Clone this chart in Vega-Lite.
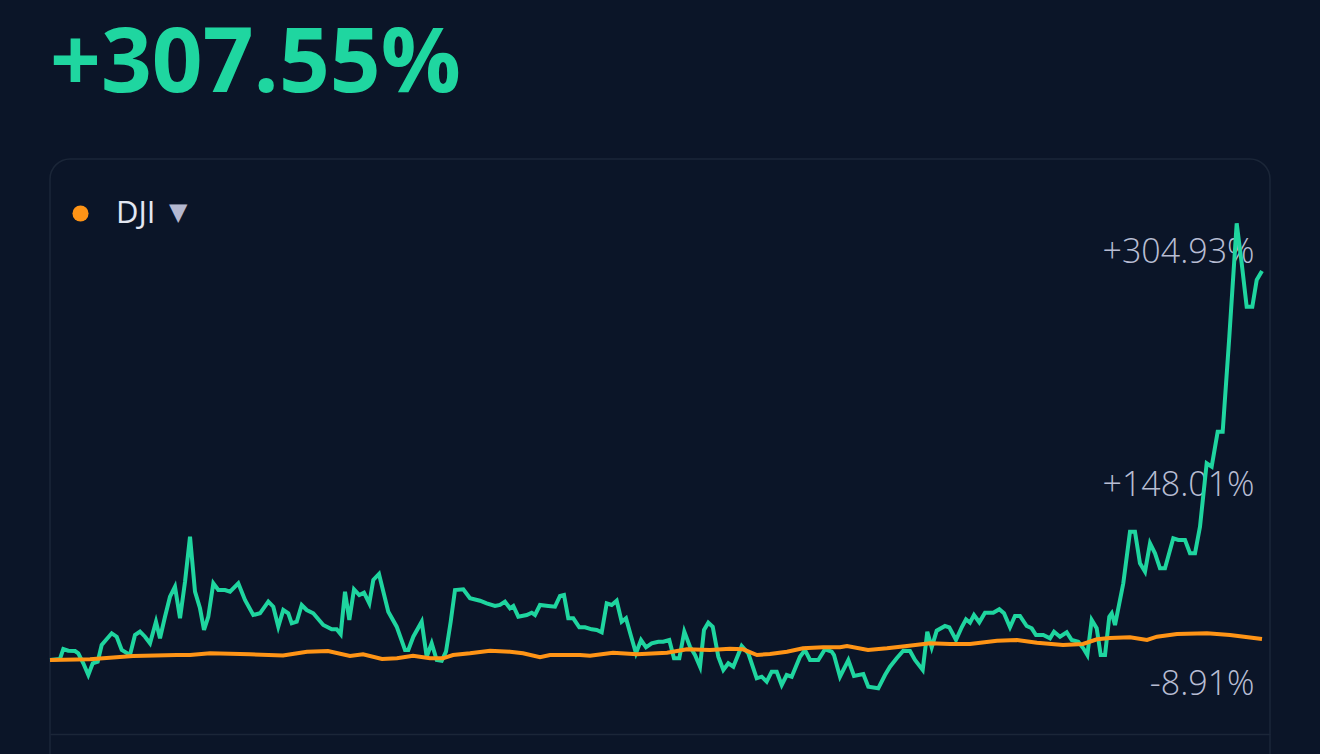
{
  "$schema": "https://vega.github.io/schema/vega-lite/v6.json",
  "width": 1220,
  "height": 620,
  "autosize": {"type": "none"},
  "padding": {"left": 50, "top": 159, "right": 50, "bottom": -25},
  "background": "#0b1528",
  "title": {"text": "+307.55%", "anchor": "start", "frame": "group", "font": "Open Sans", "fontSize": 89, "fontWeight": "bold", "color": "#1fd6a0", "offset": 48},
  "config": {"view": {"stroke": "#1b2638", "strokeWidth": 1.5, "cornerRadius": 20}},
  "datasets": {
    "stock": [
      {"t": 0, "pct": 0}, {"t": 2.06, "pct": 0.79}, {"t": 2.74, "pct": 8.7}, {"t": 3.77, "pct": 7.35}, {"t": 5.16, "pct": 7.12}, {"t": 5.84, "pct": 5.3}, {"t": 6.87, "pct": -2.61}, {"t": 7.9, "pct": -11.86}, {"t": 8.81, "pct": -2.61}, {"t": 9.84, "pct": -1.34}, {"t": 10.66, "pct": 11.86}, {"t": 12.73, "pct": 21.11}, {"t": 13.76, "pct": 18.42}, {"t": 14.79, "pct": 7.91}, {"t": 16.5, "pct": 3.95}, {"t": 17.53, "pct": 19.77}, {"t": 18.56, "pct": 22.38}, {"t": 19.6, "pct": 18.42}, {"t": 20.63, "pct": 13.2}, {"t": 21.86, "pct": 30.28}, {"t": 22.69, "pct": 17.16}, {"t": 23.72, "pct": 34.23}, {"t": 24.75, "pct": 50.05}, {"t": 25.78, "pct": 57.95}, {"t": 26.82, "pct": 32.97}, {"t": 27.85, "pct": 61.91}, {"t": 28.88, "pct": 97.49}, {"t": 29.91, "pct": 54.0}, {"t": 30.94, "pct": 40.88}, {"t": 31.77, "pct": 23.72}, {"t": 32.65, "pct": 34.23}, {"t": 33.69, "pct": 60.64}, {"t": 34.72, "pct": 55.34}, {"t": 36.1, "pct": 55.34}, {"t": 37.13, "pct": 54.0}, {"t": 38.84, "pct": 60.64}, {"t": 40.22, "pct": 47.44}, {"t": 41.93, "pct": 35.58}, {"t": 43.32, "pct": 36.92}, {"t": 45.03, "pct": 46.09}, {"t": 46.06, "pct": 42.14}, {"t": 47.09, "pct": 26.33}, {"t": 48.12, "pct": 39.53}, {"t": 49.15, "pct": 36.92}, {"t": 49.86, "pct": 29.02}, {"t": 50.89, "pct": 30.28}, {"t": 51.92, "pct": 43.49}, {"t": 52.95, "pct": 39.53}, {"t": 54.31, "pct": 36.92}, {"t": 56.37, "pct": 27.67}, {"t": 58.11, "pct": 24.27}, {"t": 59.13, "pct": 24.27}, {"t": 59.96, "pct": 20.32}, {"t": 60.85, "pct": 54.0}, {"t": 61.74, "pct": 31.63}, {"t": 62.71, "pct": 55.9}, {"t": 63.8, "pct": 51.39}, {"t": 64.77, "pct": 53.21}, {"t": 65.86, "pct": 44.83}, {"t": 66.69, "pct": 63.25}, {"t": 67.86, "pct": 68.0}, {"t": 69.78, "pct": 38.19}, {"t": 71.51, "pct": 26.33}, {"t": 73.23, "pct": 7.91}, {"t": 73.91, "pct": 7.91}, {"t": 74.94, "pct": 18.42}, {"t": 76.67, "pct": 30.28}, {"t": 77.7, "pct": 2.61}, {"t": 78.73, "pct": 13.2}, {"t": 79.77, "pct": 0}, {"t": 80.8, "pct": -0.55}, {"t": 81.68, "pct": 6.56}, {"t": 82.65, "pct": 30.28}, {"t": 83.54, "pct": 55.34}, {"t": 85.25, "pct": 55.9}, {"t": 86.63, "pct": 48.78}, {"t": 88.7, "pct": 46.88}, {"t": 90.08, "pct": 44.83}, {"t": 91.79, "pct": 42.69}, {"t": 92.82, "pct": 43.49}, {"t": 93.85, "pct": 46.09}, {"t": 94.88, "pct": 40.88}, {"t": 95.57, "pct": 42.69}, {"t": 96.6, "pct": 34.23}, {"t": 98.33, "pct": 35.58}, {"t": 99.36, "pct": 37.4}, {"t": 100.04, "pct": 35.58}, {"t": 101.07, "pct": 43.49}, {"t": 102.79, "pct": 42.69}, {"t": 104.17, "pct": 42.14}, {"t": 105.2, "pct": 50.6}, {"t": 106.02, "pct": 51.39}, {"t": 106.91, "pct": 32.97}, {"t": 107.94, "pct": 32.97}, {"t": 109.18, "pct": 25.85}, {"t": 110.36, "pct": 25.85}, {"t": 111.74, "pct": 24.27}, {"t": 112.77, "pct": 23.72}, {"t": 113.8, "pct": 21.9}, {"t": 114.83, "pct": 44.83}, {"t": 115.86, "pct": 43.49}, {"t": 116.89, "pct": 46.88}, {"t": 117.92, "pct": 30.28}, {"t": 118.81, "pct": 32.97}, {"t": 119.78, "pct": 19.77}, {"t": 120.87, "pct": 5.3}, {"t": 121.91, "pct": 15.81}, {"t": 122.94, "pct": 10.04}, {"t": 124.11, "pct": 13.2}, {"t": 125.47, "pct": 14.47}, {"t": 126.5, "pct": 14.47}, {"t": 127.74, "pct": 15.81}, {"t": 128.71, "pct": 1.34}, {"t": 129.81, "pct": 1.34}, {"t": 130.84, "pct": 22.38}, {"t": 132.01, "pct": 10.52}, {"t": 133.04, "pct": 3.95}, {"t": 134.08, "pct": -5.3}, {"t": 134.9, "pct": 23.72}, {"t": 135.79, "pct": 29.49}, {"t": 136.7, "pct": 26.33}, {"t": 137.85, "pct": 2.61}, {"t": 138.89, "pct": -7.91}, {"t": 139.92, "pct": -2.61}, {"t": 140.95, "pct": -5.3}, {"t": 142.68, "pct": 11.07}, {"t": 144.04, "pct": 5.3}, {"t": 145.77, "pct": -14.47}, {"t": 146.8, "pct": -13.2}, {"t": 147.83, "pct": -17.16}, {"t": 148.86, "pct": -9.25}, {"t": 149.9, "pct": -9.25}, {"t": 150.93, "pct": -19.77}, {"t": 151.96, "pct": -11.86}, {"t": 152.99, "pct": -13.2}, {"t": 154.7, "pct": 2.61}, {"t": 155.73, "pct": 7.91}, {"t": 156.77, "pct": 0}, {"t": 158.48, "pct": 0}, {"t": 159.86, "pct": 8.46}, {"t": 161.24, "pct": 6.56}, {"t": 161.72, "pct": 3.95}, {"t": 162.95, "pct": -13.2}, {"t": 164.67, "pct": 0}, {"t": 165.84, "pct": -12.65}, {"t": 167.76, "pct": -11.07}, {"t": 168.79, "pct": -21.11}, {"t": 170.85, "pct": -22.38}, {"t": 172.24, "pct": -11.86}, {"t": 173.27, "pct": -5.3}, {"t": 174.65, "pct": 1.34}, {"t": 176.01, "pct": 7.35}, {"t": 177.39, "pct": 7.12}, {"t": 178.42, "pct": 0}, {"t": 180.01, "pct": -7.91}, {"t": 180.96, "pct": 22.38}, {"t": 181.87, "pct": 10.04}, {"t": 182.9, "pct": 23.17}, {"t": 184.61, "pct": 26.88}, {"t": 185.5, "pct": 25.85}, {"t": 186.88, "pct": 15.81}, {"t": 188.06, "pct": 25.85}, {"t": 188.94, "pct": 32.18}, {"t": 189.77, "pct": 29.49}, {"t": 190.59, "pct": 35.58}, {"t": 191.69, "pct": 29.81}, {"t": 192.86, "pct": 37.4}, {"t": 194.57, "pct": 37.4}, {"t": 195.81, "pct": 40.09}, {"t": 196.78, "pct": 36.92}, {"t": 198.02, "pct": 25.85}, {"t": 199.05, "pct": 34.79}, {"t": 200.08, "pct": 34.79}, {"t": 201.46, "pct": 26.88}, {"t": 202.5, "pct": 25.06}, {"t": 203.38, "pct": 19.77}, {"t": 204.89, "pct": 19.77}, {"t": 206.27, "pct": 17.16}, {"t": 207.1, "pct": 22.38}, {"t": 208.33, "pct": 18.42}, {"t": 209.72, "pct": 21.9}, {"t": 210.75, "pct": 15.81}, {"t": 212.11, "pct": 14.47}, {"t": 213.14, "pct": 9.25}, {"t": 213.97, "pct": 3.95}, {"t": 214.87, "pct": 31.63}, {"t": 215.9, "pct": 25.06}, {"t": 216.73, "pct": 3.95}, {"t": 217.62, "pct": 3.95}, {"t": 218.5, "pct": 34.23}, {"t": 219.0, "pct": 36.92}, {"t": 219.68, "pct": 27.67}, {"t": 221.39, "pct": 60.64}, {"t": 222.77, "pct": 101.44}, {"t": 223.8, "pct": 101.44}, {"t": 224.83, "pct": 76.46}, {"t": 225.87, "pct": 69.81}, {"t": 226.9, "pct": 92.27}, {"t": 227.93, "pct": 84.36}, {"t": 228.96, "pct": 72.5}, {"t": 229.99, "pct": 72.5}, {"t": 231.7, "pct": 96.22}, {"t": 232.74, "pct": 94.88}, {"t": 234.12, "pct": 94.88}, {"t": 235.15, "pct": 84.36}, {"t": 236.18, "pct": 84.36}, {"t": 237.21, "pct": 105.39}, {"t": 238.59, "pct": 155.52}, {"t": 239.62, "pct": 152.83}, {"t": 240.86, "pct": 180.5}, {"t": 241.89, "pct": 180.5}, {"t": 243.26, "pct": 255.61}, {"t": 244.78, "pct": 345.27}, {"t": 245.81, "pct": 313.65}, {"t": 246.84, "pct": 279.33}, {"t": 248.0, "pct": 279.33}, {"t": 248.91, "pct": 300.44}, {"t": 250, "pct": 307.55}
    ],
    "dji": [
      {"series": "DJI", "t": 0, "pct": 0}, {"series": "DJI", "t": 8.25, "pct": 0.55}, {"series": "DJI", "t": 17.12, "pct": 3.16}, {"series": "DJI", "t": 26.2, "pct": 3.95}, {"series": "DJI", "t": 28.88, "pct": 3.95}, {"series": "DJI", "t": 33.0, "pct": 5.3}, {"series": "DJI", "t": 41.25, "pct": 4.51}, {"series": "DJI", "t": 48.06, "pct": 3.48}, {"series": "DJI", "t": 53.01, "pct": 6.56}, {"series": "DJI", "t": 57.34, "pct": 7.12}, {"series": "DJI", "t": 61.88, "pct": 3.16}, {"series": "DJI", "t": 64.56, "pct": 4.51}, {"series": "DJI", "t": 68.48, "pct": 0.79}, {"series": "DJI", "t": 71.57, "pct": 1.34}, {"series": "DJI", "t": 74.88, "pct": 3.4}, {"series": "DJI", "t": 78.38, "pct": 1.34}, {"series": "DJI", "t": 81.06, "pct": 1.34}, {"series": "DJI", "t": 83.13, "pct": 3.95}, {"series": "DJI", "t": 86.63, "pct": 5.3}, {"series": "DJI", "t": 90.76, "pct": 7.35}, {"series": "DJI", "t": 94.88, "pct": 6.56}, {"series": "DJI", "t": 97.57, "pct": 5.3}, {"series": "DJI", "t": 101.07, "pct": 2.13}, {"series": "DJI", "t": 103.14, "pct": 3.95}, {"series": "DJI", "t": 109.32, "pct": 3.95}, {"series": "DJI", "t": 111.39, "pct": 3.4}, {"series": "DJI", "t": 116.13, "pct": 5.77}, {"series": "DJI", "t": 121.08, "pct": 4.51}, {"series": "DJI", "t": 127.27, "pct": 5.77}, {"series": "DJI", "t": 131.39, "pct": 8.46}, {"series": "DJI", "t": 136.14, "pct": 7.91}, {"series": "DJI", "t": 140.26, "pct": 8.93}, {"series": "DJI", "t": 142.95, "pct": 8.46}, {"series": "DJI", "t": 145.83, "pct": 3.95}, {"series": "DJI", "t": 148.51, "pct": 4.74}, {"series": "DJI", "t": 152.02, "pct": 6.56}, {"series": "DJI", "t": 155.32, "pct": 9.25}, {"series": "DJI", "t": 159.45, "pct": 10.04}, {"series": "DJI", "t": 162.95, "pct": 10.04}, {"series": "DJI", "t": 164.4, "pct": 11.07}, {"series": "DJI", "t": 168.73, "pct": 7.91}, {"series": "DJI", "t": 172.65, "pct": 9.25}, {"series": "DJI", "t": 176.77, "pct": 11.07}, {"series": "DJI", "t": 181.52, "pct": 13.2}, {"series": "DJI", "t": 185.64, "pct": 12.65}, {"series": "DJI", "t": 189.77, "pct": 12.65}, {"series": "DJI", "t": 195.34, "pct": 15.26}, {"series": "DJI", "t": 199.46, "pct": 15.81}, {"series": "DJI", "t": 203.59, "pct": 13.68}, {"series": "DJI", "t": 208.95, "pct": 11.86}, {"series": "DJI", "t": 213.08, "pct": 12.65}, {"series": "DJI", "t": 215.96, "pct": 16.37}, {"series": "DJI", "t": 218.65, "pct": 17.39}, {"series": "DJI", "t": 222.77, "pct": 17.95}, {"series": "DJI", "t": 226.28, "pct": 15.81}, {"series": "DJI", "t": 228.34, "pct": 18.42}, {"series": "DJI", "t": 232.47, "pct": 20.56}, {"series": "DJI", "t": 238.66, "pct": 21.11}, {"series": "DJI", "t": 243.4, "pct": 19.77}, {"series": "DJI", "t": 250, "pct": 16.6}
    ]
  },
  "layer": [
    {
      "data": {"name": "stock"},
      "mark": {"type": "line", "color": "#1fd59f", "strokeWidth": 4},
      "encoding": {
        "x": {"field": "t", "type": "quantitative", "scale": {"domain": [0, 251.65], "nice": false, "zero": false},
              "axis": {"orient": "bottom", "offset": -45, "domain": true, "domainColor": "#1b2638", "domainWidth": 1.5, "ticks": false, "labels": false, "grid": false, "title": null}},
        "y": {"field": "pct", "type": "quantitative", "scale": {"domain": [-94.09, 396.11], "nice": false, "zero": false},
              "axis": {"orient": "right", "values": [-8.91, 148.01, 304.93], "domain": false, "ticks": false, "tickSize": 0, "grid": false, "title": null,
                       "labelExpr": "(datum.value < 0 ? '-' : '+') + format(abs(datum.value), '.2f') + '%'",
                       "labelAlign": "right", "labelBaseline": "middle", "labelPadding": -16, "labelFont": "Open Sans", "labelFontSize": 34, "labelFontWeight": 300, "labelColor": "#b8bdd3",
                       "labelOffset": {"condition": {"test": "datum.value > 300", "value": -22}, "value": 13}, "labelOverlap": false, "labelFlush": false}}
      }
    },
    {
      "data": {"name": "dji"},
      "mark": {"type": "line", "strokeWidth": 4},
      "encoding": {
        "x": {"field": "t", "type": "quantitative"},
        "y": {"field": "pct", "type": "quantitative"},
        "color": {"field": "series", "type": "nominal", "scale": {"range": ["#ff9416"]},
                  "legend": {"orient": "none", "legendX": 15, "legendY": 39, "padding": 0, "title": "▼", "titleOrient": "right", "titleColor": "#b4b8d0", "titleFontSize": 24, "titleFont": "DejaVu Sans", "titlePadding": 14, "titleBaseline": "middle", "titleAnchor": "middle",
                             "symbolType": "circle", "symbolSize": 260, "labelFont": "Open Sans", "labelFontSize": 31, "labelColor": "#e4e8f2", "labelOffset": 20,
                             "encode": {"symbols": {"update": {"fill": {"value": "#ff9416"}, "strokeWidth": {"value": 0}}}}}}
      }
    }
  ]
}
